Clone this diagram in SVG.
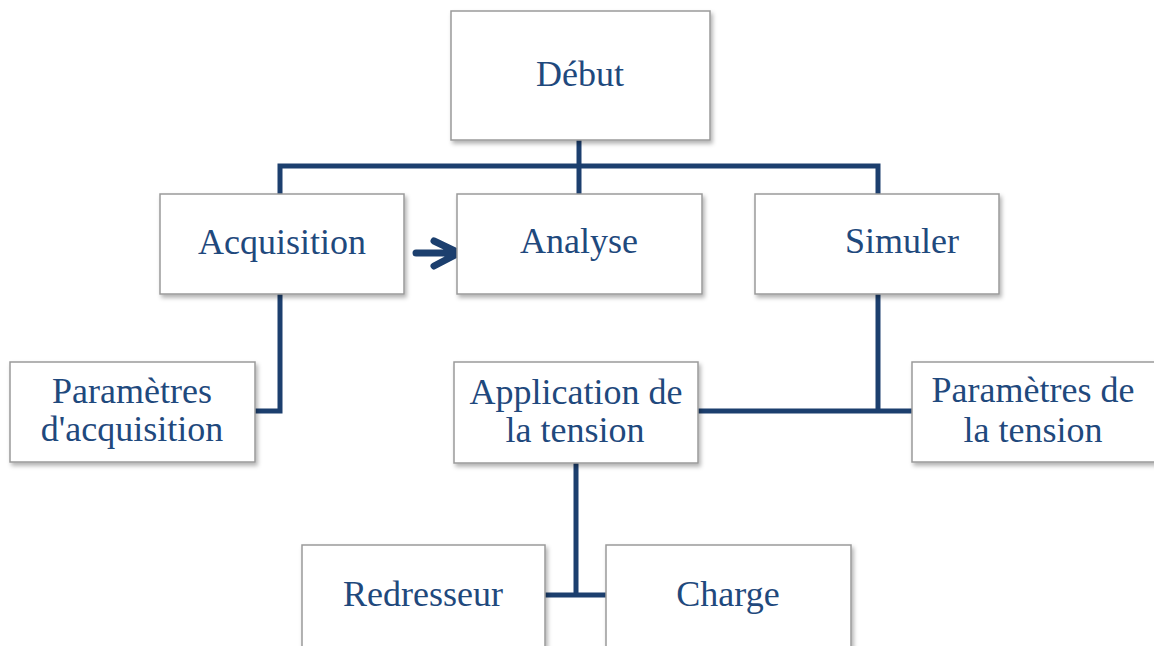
<svg xmlns="http://www.w3.org/2000/svg" width="1154" height="646" viewBox="0 0 1154 646">
<defs>
<filter id="sh" x="-10%" y="-10%" width="130%" height="140%">
<feDropShadow dx="2" dy="3" stdDeviation="2" flood-color="#000" flood-opacity="0.3"/>
</filter>
<style>
.box{fill:#fff;stroke:#9a9a9a;stroke-width:1.5;filter:url(#sh)}
.t{font-family:'Liberation Serif',serif;font-size:36px;fill:#1F497D;text-anchor:middle}
.ln{fill:none;stroke:#1C3F6E;stroke-width:5}
.ar{fill:none;stroke:#1C3F6E;stroke-width:7;stroke-linecap:round;stroke-linejoin:round}
</style>
</defs>
<rect width="1154" height="646" fill="#fff"/>
<g id="connectors">
<path class="ln" d="M579,140 V194"/>
<path class="ln" d="M280,194 V166 H878 V194"/>
<path class="ln" d="M280,294 V411 H255"/>
<path class="ln" d="M878,294 V411"/>
<path class="ln" d="M698,411 H912"/>
<path class="ln" d="M576,463 V595"/>
<path class="ln" d="M545,595 H606"/>
<path class="ar" d="M416,253 H452 M434,241 L459,253 L434,266"/>
</g>
<g id="debut"><rect class="box" x="451" y="11" width="259" height="129"/><text class="t" x="580" y="86">Début</text></g>
<g id="acquisition"><rect class="box" x="160" y="194" width="244" height="100"/><text class="t" x="282" y="254">Acquisition</text></g>
<g id="analyse"><rect class="box" x="457" y="194" width="245" height="100"/><text class="t" x="579" y="253">Analyse</text></g>
<g id="simuler"><rect class="box" x="755" y="194" width="244" height="100"/><text class="t" x="902" y="253">Simuler</text></g>
<g id="param-acq"><rect class="box" x="10" y="362" width="245" height="100"/><text class="t" x="132" y="403">Paramètres</text><text class="t" x="132" y="441">d'acquisition</text></g>
<g id="application"><rect class="box" x="454" y="362" width="244" height="101"/><text class="t" x="576" y="404">Application de</text><text class="t" x="575" y="442">la tension</text></g>
<g id="param-tension"><rect class="box" x="912" y="362" width="244" height="100"/><text class="t" x="1033" y="402">Paramètres de</text><text class="t" x="1033" y="442">la tension</text></g>
<g id="redresseur"><rect class="box" x="302" y="545" width="243" height="110"/><text class="t" x="423" y="606">Redresseur</text></g>
<g id="charge"><rect class="box" x="606" y="545" width="245" height="110"/><text class="t" x="728" y="606">Charge</text></g>
</svg>
